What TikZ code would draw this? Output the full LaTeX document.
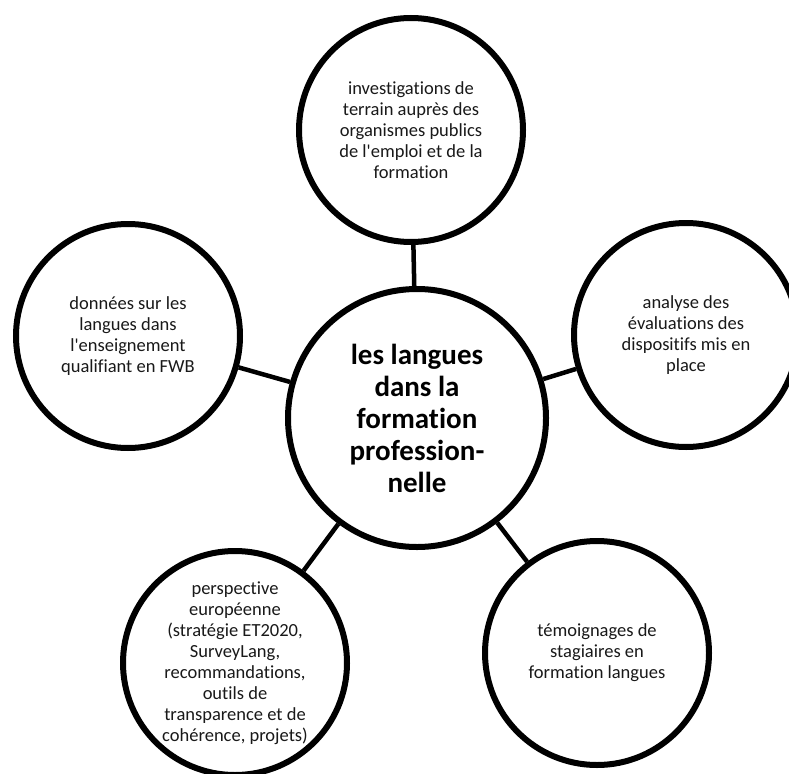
\documentclass[tikz,border=0pt]{standalone}
\usepackage{fontspec}
\newfontfamily\carl{Carlito}[Ligatures=NoCommon]
\usetikzlibrary{shadows}
\begin{document}
\begin{tikzpicture}[x=1pt,y=-1pt,
  bubble/.style={circle, draw=black, line width=6pt, fill=white,
    minimum size=224pt, inner sep=0pt, align=center,
    font=\carl\fontsize{18.5}{21}\selectfont, text=black!90,
    drop shadow={shadow xshift=2pt, shadow yshift=-2pt, opacity=0.25}},
  hub/.style={bubble, minimum size=258pt, text=black,
    font=\carl\bfseries\fontsize{29}{32}\selectfont},
  link/.style={line width=4.5pt, draw=black}]
\useasboundingbox (0,0) rectangle (789,773);

\node[hub] (C) at (417,418) {les langues\\dans la\\formation\\profession-\\nelle};
\node[bubble] (T) at (411,130) {investigations de\\terrain auprès des\\organismes publics\\de l'emploi et de la\\formation};
\node[bubble] (L) at (128,336) {données sur les\\langues dans\\l'enseignement\\qualifiant en FWB};
\node[bubble] (R) at (686,335) {analyse des\\évaluations des\\dispositifs mis en\\place};
\node[bubble] (BL) at (235,663) {perspective\\européenne\\(stratégie ET2020,\\SurveyLang,\\recommandations,\\outils de\\transparence et de\\cohérence, projets)};
\node[bubble] (BR) at (597,653) {témoignages de\\stagiaires en\\formation langues};

\draw[link] (C) -- (T);
\draw[link] (C) -- (L);
\draw[link] (C) -- (R);
\draw[link] (C) -- (BL);
\draw[link] (C) -- (BR);
\end{tikzpicture}
\end{document}
